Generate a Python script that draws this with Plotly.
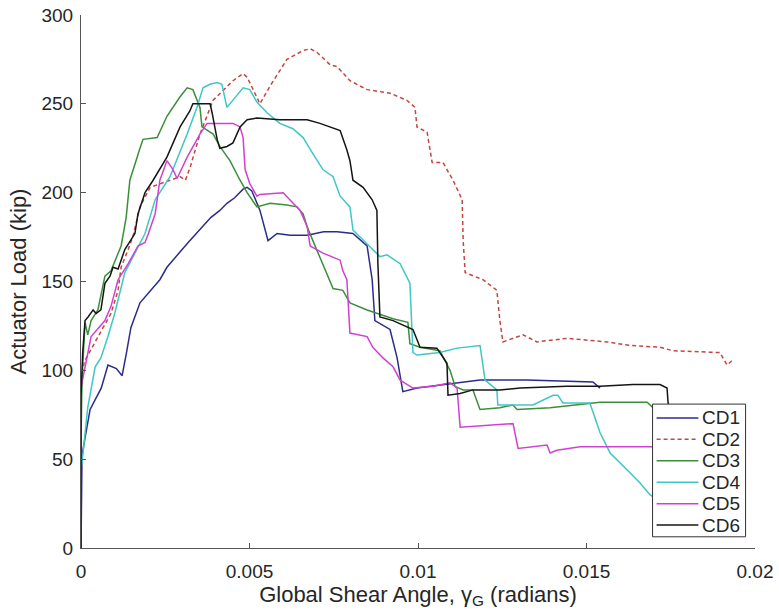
import plotly.graph_objects as go

# ---------------- data ----------------
series_names = ["CD1", "CD2", "CD3", "CD4", "CD5", "CD6"]

cd1_x = [0, 0.00002, 0.00003, 0.00012, 0.00027, 0.0006, 0.0008, 0.00105, 0.00122, 0.00135,
         0.00148, 0.00175, 0.00208, 0.00234, 0.00255, 0.00279, 0.003, 0.00318, 0.00338, 0.00362,
         0.00385, 0.00412, 0.00433, 0.00455, 0.00481, 0.00493, 0.00507, 0.00531, 0.00555, 0.00582,
         0.0062, 0.00671, 0.0072, 0.0076, 0.00807, 0.00849, 0.00864, 0.00872, 0.00917, 0.00938,
         0.00955, 0.00997, 0.01086, 0.01184, 0.01323, 0.0145, 0.01519, 0.0154]
cd1_y = [0, 40, 52, 62, 78, 90, 103, 101, 97, 110,
         124, 138, 145, 151, 158, 163, 168, 172, 176, 181,
         186, 190, 194, 197, 202, 203, 201, 190, 173, 177,
         176, 176, 178, 178, 177, 170, 151, 128, 123, 107,
         88, 90, 92, 94.5, 94.5, 94, 93.5, 90]

cd2_x = [0, 0, 0.0001, 0.0003, 0.0006, 0.00089, 0.0011, 0.00119, 0.0014, 0.00155,
         0.00175, 0.00205, 0.0025, 0.00294, 0.0031, 0.00325, 0.00353, 0.00392, 0.00451, 0.00481,
         0.00493, 0.0051, 0.00531, 0.00561, 0.00611, 0.00659, 0.0068, 0.007, 0.00739, 0.0076,
         0.00798, 0.00849, 0.00917, 0.00967, 0.00991, 0.00997, 0.01027, 0.01042, 0.01074, 0.01104,
         0.01131, 0.01134, 0.0114, 0.01193, 0.01234, 0.01243, 0.01252, 0.01312, 0.01353, 0.01442,
         0.01561, 0.01629, 0.01718, 0.01757, 0.01896, 0.01917, 0.01935]
cd2_y = [0, 95, 105, 112, 122, 132, 145, 158, 168, 176,
         192, 203, 206, 209, 207, 215, 233, 252, 263, 267,
         265, 258, 250, 260, 275, 280, 281, 279, 272, 271,
         263, 258, 256, 252, 248, 237, 234, 217, 217, 207,
         196, 173, 155, 151, 145, 128, 116, 120, 116, 118,
         116, 114, 113, 111, 110, 103, 106]

cd3_x = [0, 0, 0.00003, 0.00012, 0.0002, 0.0003, 0.0005, 0.00071, 0.00089, 0.00119,
         0.00134, 0.00145, 0.00175, 0.00184, 0.00226, 0.00255, 0.00294, 0.00315, 0.00332, 0.00353,
         0.00359, 0.00392, 0.00412, 0.00442, 0.00472, 0.00493, 0.00522, 0.00561, 0.00611, 0.00641,
         0.00659, 0.00671, 0.00688, 0.00718, 0.00748, 0.00777, 0.00798, 0.00849, 0.00926, 0.0097,
         0.00976, 0.01006, 0.01065, 0.01095, 0.0111, 0.01134, 0.01163, 0.01184, 0.01243, 0.01282,
         0.01294, 0.01392, 0.0154, 0.0168, 0.01697, 0.0172]
cd3_y = [0, 60, 95, 127, 120, 128, 134, 153, 156, 170,
         186, 207, 225, 230, 231, 243, 254, 259, 258, 248,
         237, 233, 226, 218, 207, 200, 192, 194, 193, 192,
         188, 181, 173, 160, 146, 145, 138, 134, 129, 127,
         115, 113, 111, 100, 91, 89, 89, 78, 79, 80.5,
         78, 79, 82, 82, 79, 77]

cd4_x = [0, 0, 0.00003, 0.0002, 0.00042, 0.00059, 0.0008, 0.001, 0.0013, 0.0016,
         0.0019, 0.0022, 0.00264, 0.00315, 0.00344, 0.00362, 0.00383, 0.00404, 0.00418, 0.00433,
         0.00451, 0.00481, 0.00501, 0.00522, 0.00552, 0.0059, 0.00629, 0.00659, 0.00688, 0.00718,
         0.00748, 0.00769, 0.00798, 0.00807, 0.00828, 0.00887, 0.00908, 0.00947, 0.00976, 0.00985,
         0.00997, 0.01065, 0.01116, 0.01184, 0.01199, 0.01234, 0.01237, 0.01341, 0.01401, 0.01415,
         0.0143, 0.0151, 0.0154, 0.0157, 0.0162, 0.01659, 0.01688, 0.0172]
cd4_y = [0, 45, 48, 79, 102, 107, 119, 132, 155, 166,
         177, 196, 209, 233, 248, 259, 261, 262, 261, 248,
         252, 259, 258, 251, 245, 239, 236, 231, 222, 213,
         209, 198, 192, 179, 175, 164, 165, 160, 149, 110,
         108.6, 110, 112.5, 114, 94.5, 89, 80.5, 80.5, 86, 86,
         81.6, 81.6, 65, 53.5, 44, 36.6, 30, 26]

cd5_x = [0, 0, 0.00006, 0.00012, 0.0003, 0.00071, 0.00089, 0.0011, 0.0014, 0.00169,
         0.0019, 0.002, 0.0022, 0.00234, 0.00255, 0.00273, 0.00285, 0.00315, 0.00353, 0.00374,
         0.00451, 0.00472, 0.00481, 0.00487, 0.00501, 0.00522, 0.00531, 0.006, 0.0062, 0.0065,
         0.00671, 0.0068, 0.00718, 0.00769, 0.00777, 0.00789, 0.00798, 0.00849, 0.00866, 0.00896,
         0.00926, 0.00947, 0.00985, 0.01045, 0.01095, 0.01116, 0.01125, 0.01205, 0.01282, 0.01297,
         0.01383, 0.01392, 0.01412, 0.01481, 0.01697, 0.0172]
cd5_y = [0, 90, 96, 102, 119, 128, 136, 151, 160, 170,
         172, 177, 188, 207, 218, 213, 208, 220, 233, 239,
         239, 237, 231, 213, 205, 198, 199, 200, 196, 190,
         181, 170, 166, 162, 156, 151, 121, 119, 113, 107,
         102, 94.5, 90, 91, 93, 90, 68, 69, 70, 56,
         58, 53.5, 55, 57, 57, 57]

cd6_x = [0, 0, 0.00005, 0.00012, 0.00021, 0.00036, 0.00045, 0.00059, 0.00071, 0.00086,
         0.00095, 0.0011, 0.0013, 0.0016, 0.00169, 0.0019, 0.00214, 0.00255, 0.00294, 0.00323,
         0.00332, 0.00383, 0.00389, 0.00404, 0.00412, 0.00433, 0.00451, 0.00472, 0.00493, 0.00522,
         0.0059, 0.00671, 0.00709, 0.00769, 0.00789, 0.00798, 0.00807, 0.00837, 0.00864, 0.00878,
         0.00881, 0.00887, 0.00926, 0.00985, 0.01006, 0.01056, 0.01086, 0.01089, 0.01125, 0.01163,
         0.01243, 0.01303, 0.01442, 0.0154, 0.01638, 0.01718, 0.01739, 0.01742, 0.0175]
cd6_y = [0, 85, 110, 128, 130, 134, 132, 134, 149, 153,
         158, 157, 168, 177, 188, 200, 207, 220, 237, 246,
         250, 250, 245, 230, 225, 226, 228, 237, 241, 242,
         241, 241, 239, 235, 224, 218, 207, 203, 196, 190,
         160, 130, 128, 123, 113, 112.5, 104, 86, 87, 89,
         89, 90, 91, 91, 92, 92, 90, 82, 75]

x_tick_vals = [0, 0.005, 0.01, 0.015, 0.02]
x_tick_text = ["0", "0.005", "0.01", "0.015", "0.02"]
y_tick_vals = [0, 50, 100, 150, 200, 250, 300]

# ---------------- styles ----------------
colors = ["#2a2c8c", "#c4463f", "#3b8f3b", "#3fc6c6", "#d141d1", "#151515"]
dashes = ["solid", "4px,3px", "solid", "solid", "solid", "solid"]
xs = [cd1_x, cd2_x, cd3_x, cd4_x, cd5_x, cd6_x]
ys = [cd1_y, cd2_y, cd3_y, cd4_y, cd5_y, cd6_y]

FONT = "Liberation Sans, Arial, sans-serif"
TICK_FS = 19
TITLE_FS = 22
LEG_FS = 19
TXT = "#262626"

fig = go.Figure()
for name, x, y, c, d in zip(series_names, xs, ys, colors, dashes):
    fig.add_trace(go.Scatter(
        x=x, y=y, mode="lines", name=name, showlegend=False,
        line=dict(color=c, width=1.5, dash=d),
    ))

# ---- boxed legend (paper coordinates), MATLAB-like compact layout ----
box_x0, box_x1 = 0.848, 0.986
box_y0, box_y1 = 0.021, 0.270
row_top, row_step = 0.244, 0.0402
line_x0, line_x1, text_x = 0.854, 0.916, 0.919

shapes = [dict(type="rect", xref="paper", yref="paper", layer="above",
               x0=box_x0, x1=box_x1, y0=box_y0, y1=box_y1,
               fillcolor="white", line=dict(color="#333333", width=1))]
annotations = []
for i, (name, c, d) in enumerate(zip(series_names, colors, dashes)):
    yy = row_top - i * row_step
    shapes.append(dict(type="line", xref="paper", yref="paper", layer="above",
                       x0=line_x0, x1=line_x1, y0=yy, y1=yy,
                       line=dict(color=c, width=1.5, dash=d)))
    annotations.append(dict(xref="paper", yref="paper", x=text_x, y=yy,
                            xanchor="left", yanchor="middle", showarrow=False,
                            text=name, font=dict(family=FONT, size=LEG_FS, color=TXT)))

fig.update_layout(
    width=779, height=611,
    margin=dict(l=81, r=24, t=15, b=63, autoexpand=False),
    paper_bgcolor="white", plot_bgcolor="white",
    font=dict(family=FONT, size=TICK_FS, color=TXT),
    showlegend=False,
    shapes=shapes, annotations=annotations,
    xaxis=dict(
        range=[0, 0.02], tickvals=x_tick_vals, ticktext=x_tick_text,
        showline=True, linecolor="#555555", linewidth=1,
        ticks="inside", ticklen=5, tickcolor="#555555",
        showgrid=False, zeroline=False, mirror=False, automargin=False,
        ticklabelstandoff=6,
        tickfont=dict(size=TICK_FS, color=TXT),
        title=dict(text="Global Shear Angle, γ<sub>G</sub> (radians)",
                   font=dict(size=TITLE_FS, color=TXT), standoff=2),
    ),
    yaxis=dict(
        range=[0, 300], tickvals=y_tick_vals,
        showline=True, linecolor="#555555", linewidth=1,
        ticks="inside", ticklen=5, tickcolor="#555555",
        showgrid=False, zeroline=False, mirror=False, automargin=False,
        ticklabelstandoff=3,
        tickfont=dict(size=TICK_FS, color=TXT),
        title=dict(text="Actuator Load (kip)",
                   font=dict(size=TITLE_FS, color=TXT), standoff=8),
    ),
)

fig.write_html("out.html")
